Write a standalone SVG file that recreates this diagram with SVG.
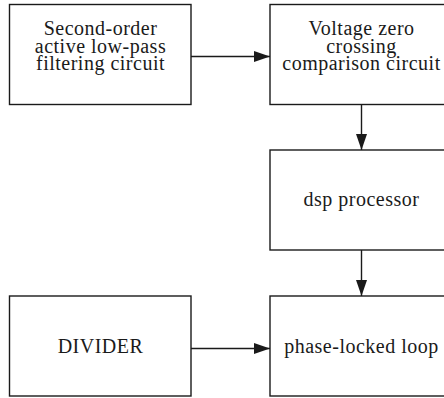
<svg xmlns="http://www.w3.org/2000/svg" width="444" height="398" viewBox="0 0 444 398">
<style>
.box{fill:#fff;stroke:#1a1a1a;stroke-width:1.4}
.lbl{font-family:"Liberation Serif","Times New Roman",serif;font-size:20px;fill:#1a1a1a;text-anchor:middle;letter-spacing:0.5px}
.conn{stroke:#1a1a1a;stroke-width:1.4;fill:none}
</style>
<defs>
<marker id="ah" markerUnits="userSpaceOnUse" markerWidth="16" markerHeight="11" refX="16" refY="5.5" orient="auto">
<path d="M0,0 L16,5.5 L0,11 Z" fill="#1a1a1a"/>
</marker>
</defs>
<rect width="444" height="398" fill="#fff"/>
<g id="filter">
<rect class="box" x="9.5" y="4.5" width="181.5" height="100"/>
<text class="lbl" x="100.5" y="35">Second-order</text>
<text class="lbl" x="100.5" y="52.5">active low-pass</text>
<text class="lbl" x="100.5" y="70">filtering circuit</text>
</g>
<g id="zerocross">
<rect class="box" x="270" y="4.5" width="183" height="100"/>
<text class="lbl" x="361.5" y="35">Voltage zero</text>
<text class="lbl" x="361.5" y="52.5">crossing</text>
<text class="lbl" x="361.5" y="70">comparison circuit</text>
</g>
<g id="dsp">
<rect class="box" x="270" y="150" width="183" height="100"/>
<text class="lbl" x="361.5" y="206">dsp processor</text>
</g>
<g id="divider">
<rect class="box" x="9.5" y="296" width="181.5" height="100"/>
<text class="lbl" x="100.5" y="352.5">DIVIDER</text>
</g>
<g id="pll">
<rect class="box" x="270" y="296" width="183" height="100"/>
<text class="lbl" x="361.5" y="352.5">phase-locked loop</text>
</g>
<g id="connectors">
<line class="conn" x1="191" y1="56.5" x2="270" y2="56.5" marker-end="url(#ah)"/>
<line class="conn" x1="361.5" y1="104.5" x2="361.5" y2="150" marker-end="url(#ah)"/>
<line class="conn" x1="361.5" y1="250" x2="361.5" y2="296" marker-end="url(#ah)"/>
<line class="conn" x1="191" y1="348.5" x2="270" y2="348.5" marker-end="url(#ah)"/>
</g>
</svg>
